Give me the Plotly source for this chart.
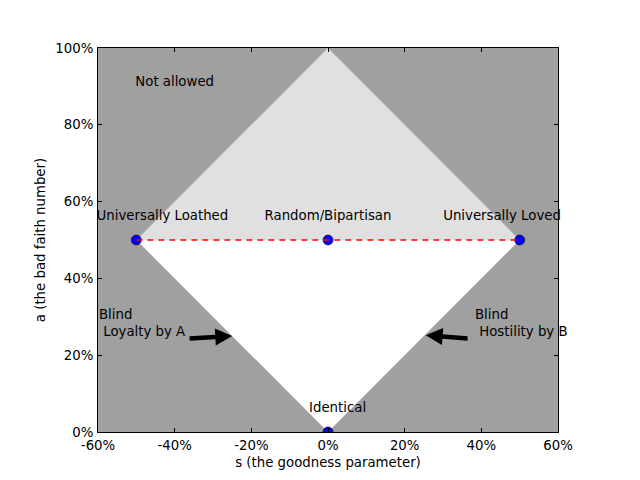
import plotly.graph_objects as go

# Regions
upper_x = [-0.5, 0.0, 0.5, -0.5]
upper_y = [0.5, 1.0, 0.5, 0.5]
lower_x = [-0.5, 0.5, 0.0, -0.5]
lower_y = [0.5, 0.5, 0.0, 0.5]

# Points
pt_x = [-0.5, 0.0, 0.5, 0.0]
pt_y = [0.5, 0.5, 0.5, 0.0]

# Dashed line
line_x = [-0.5, 0.5]
line_y = [0.5, 0.5]

# Labels
label_text = ["Not allowed", "Universally Loathed", "Random/Bipartisan", "Universally Loved", "Identical"]
label_x = [-0.4, -0.432, 0.0, 0.454, 0.025]
label_y = [0.91, 0.561, 0.561, 0.561, 0.062]

xticks = [-0.6, -0.4, -0.2, 0.0, 0.2, 0.4, 0.6]
xticklabels = ["-60%", "-40%", "-20%", "0%", "20%", "40%", "60%"]
yticks = [0.0, 0.2, 0.4, 0.6, 0.8, 1.0]
yticklabels = ["0%", "20%", "40%", "60%", "80%", "100%"]

FONT = "DejaVu Sans"
FS = 13.3

fig = go.Figure()
fig.add_trace(go.Scatter(x=upper_x, y=upper_y, fill="toself", fillcolor="#e0e0e0",
                         mode="none", hoverinfo="skip", showlegend=False))
fig.add_trace(go.Scatter(x=lower_x, y=lower_y, fill="toself", fillcolor="#ffffff",
                         mode="none", hoverinfo="skip", showlegend=False))
fig.add_trace(go.Scatter(x=pt_x, y=pt_y, mode="markers",
                         marker=dict(color="#0000ff", size=10, line=dict(color="#000000", width=0.6)),
                         showlegend=False))
fig.add_trace(go.Scatter(x=line_x, y=line_y, mode="lines",
                         line=dict(color="#ff0000", width=1.3, dash="6px,5px"),
                         showlegend=False))
fig.add_trace(go.Scatter(x=label_x, y=label_y, mode="text", text=label_text,
                         textposition="middle center", cliponaxis=False,
                         textfont=dict(family=FONT, size=FS, color="#000000"),
                         showlegend=False))

annotations = [
    dict(x=-0.25, y=0.25, ax=-0.365, ay=0.2435, xref="x", yref="y", axref="x", ayref="y",
         text="", showarrow=True, arrowhead=2, arrowwidth=4.5, arrowsize=0.75,
         arrowcolor="#000000", standoff=0, startstandoff=0),
    dict(x=0.255, y=0.252, ax=0.368, ay=0.2435, xref="x", yref="y", axref="x", ayref="y",
         text="", showarrow=True, arrowhead=2, arrowwidth=4.5, arrowsize=0.75,
         arrowcolor="#000000", standoff=0, startstandoff=0),
    dict(x=-0.6, y=0.284, xref="x", yref="y", text="Blind<br> Loyalty by A", showarrow=False,
         xanchor="left", yanchor="middle", align="left", xshift=-1,
         font=dict(family=FONT, size=FS, color="#000000")),
    dict(x=0.377, y=0.284, xref="x", yref="y", text="Blind<br> Hostility by B", showarrow=False,
         xanchor="left", yanchor="middle", align="left",
         font=dict(family=FONT, size=FS, color="#000000")),
]

axis_common = dict(showgrid=False, zeroline=False, showline=True, linecolor="#000000",
                   linewidth=1, mirror="allticks", ticks="inside", ticklen=4,
                   tickcolor="#000000", tickfont=dict(family=FONT, size=FS, color="#000000"))

fig.update_layout(
    width=640, height=480,
    margin=dict(l=90, r=90, t=40, b=56),
    paper_bgcolor="#ffffff", plot_bgcolor="#a0a0a0",
    font=dict(family=FONT, size=FS, color="#000000"),
    xaxis=dict(range=[-0.6, 0.6], tickvals=xticks, ticktext=xticklabels,
               ticklabelstandoff=1,
               title=dict(text="s (the goodness parameter)", standoff=5,
                          font=dict(family=FONT, size=FS)),
               **axis_common),
    yaxis=dict(range=[0, 1], tickvals=yticks, ticktext=yticklabels,
               ticklabelstandoff=1,
               title=dict(text="a (the bad faith number)", standoff=6,
                          font=dict(family=FONT, size=FS)),
               **axis_common),
    annotations=annotations,
    showlegend=False,
)

fig.write_html("out.html")
